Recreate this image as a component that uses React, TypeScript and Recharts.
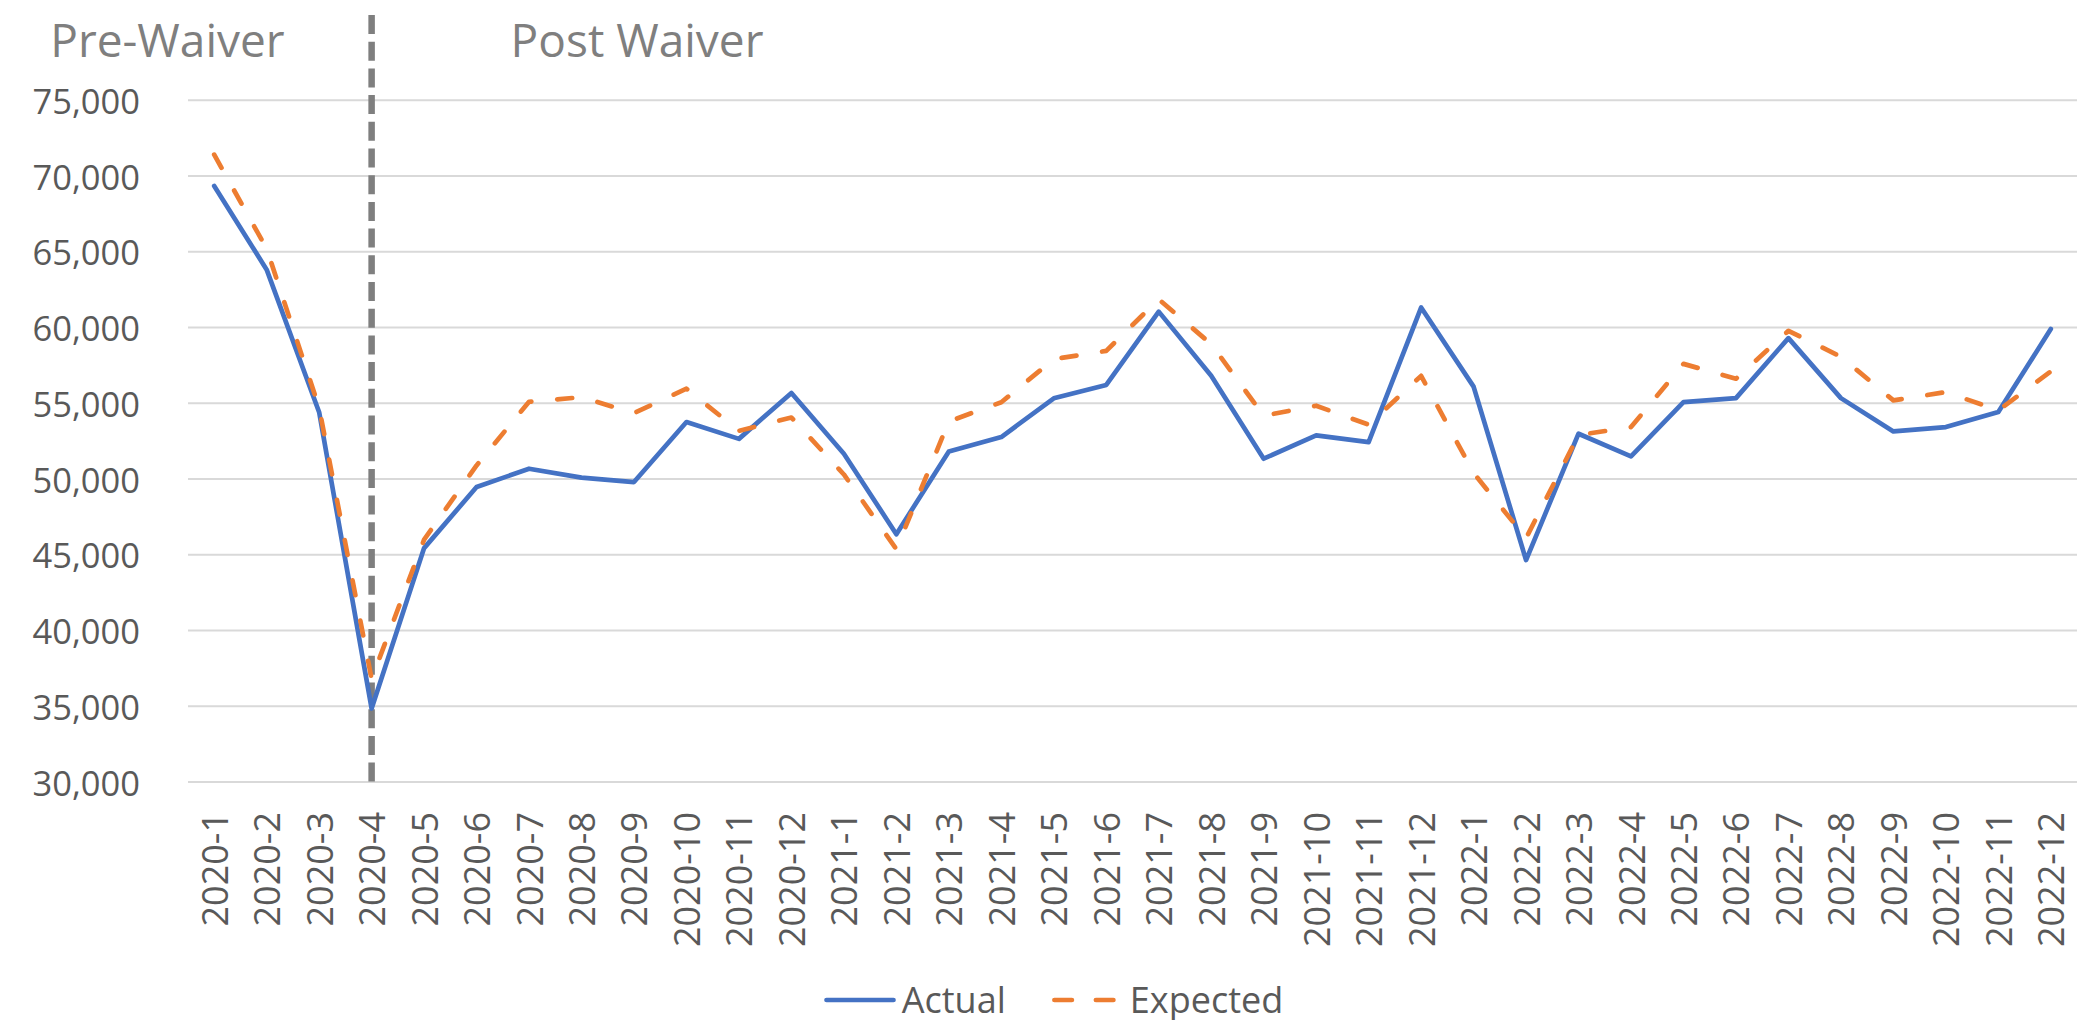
import {
  LineChart,
  Line,
  XAxis,
  YAxis,
  CartesianGrid,
  Legend,
  ReferenceLine,
} from 'recharts'

const months = [
  '2020-1', '2020-2', '2020-3', '2020-4', '2020-5', '2020-6', '2020-7', '2020-8', '2020-9', '2020-10', '2020-11', '2020-12',
  '2021-1', '2021-2', '2021-3', '2021-4', '2021-5', '2021-6', '2021-7', '2021-8', '2021-9', '2021-10', '2021-11', '2021-12',
  '2022-1', '2022-2', '2022-3', '2022-4', '2022-5', '2022-6', '2022-7', '2022-8', '2022-9', '2022-10', '2022-11', '2022-12',
]

const actual = [
  69350, 63820, 54410, 34850, 45440, 49470, 50680, 50090, 49800, 53760, 52650, 55680,
  51670, 46360, 51820, 52770, 55330, 56210, 61050, 56810, 51340, 52880, 52440, 61320,
  56100, 44650, 52990, 51490, 55080, 55340, 59300, 55340, 53140, 53430, 54420, 59900,
]

const expected = [
  71410, 65200, 54700, 36800, 46000, 50900, 55100, 55400, 54350, 55960, 53180, 54060,
  50300, 45370, 53800, 55070, 57910, 58460, 61870, 58900, 54180, 54840, 53590, 56810,
  50400, 46100, 52900, 53430, 57600, 56620, 59780, 58070, 55190, 55740, 54530, 57100,
]

const yTicks = [30000, 35000, 40000, 45000, 50000, 55000, 60000, 65000, 70000, 75000]
const yMin = 30000
const waiverMonth = '2020-4'
// the divider line runs a bit above the top gridline
const dividerTop = 80630

const BLUE = '#4472C4'
const ORANGE = '#ED7D31'
const GREY_TEXT = '#595959'

const data = months.map((m, i) => ({ month: m, actual: actual[i], expected: expected[i] }))

// recharts hands ticks 8px (tickSize + tickMargin) away from the axis
function MonthTick({ x, y, payload }: any) {
  const ty = y + 22
  return (
    <text
      x={x}
      y={ty}
      transform={`rotate(-90, ${x}, ${ty})`}
      textAnchor="end"
      dominantBaseline="central"
      fill={GREY_TEXT}
      fontSize={36}
    >
      {payload.value}
    </text>
  )
}

function ValueTick({ x, y, payload }: any) {
  return (
    <text x={x - 40} y={y} textAnchor="end" dominantBaseline="central" fill={GREY_TEXT} fontSize={34.5}>
      {Number(payload.value).toLocaleString('en-US')}
    </text>
  )
}

function WaiverLabels({ viewBox }: any) {
  if (!viewBox) return null
  const baseline = viewBox.y + 42
  return (
    <g fill="#7F7F7F" fontSize={46}>
      <text x={viewBox.x - 87} y={baseline} textAnchor="end">Pre-Waiver</text>
      <text x={viewBox.x + 139} y={baseline} textAnchor="start">Post Waiver</text>
    </g>
  )
}

function ChartLegend() {
  return (
    <div
      style={{
        display: 'flex',
        justifyContent: 'center',
        alignItems: 'center',
        height: 40,
        lineHeight: '40px',
        fontSize: 36,
        color: GREY_TEXT,
        paddingLeft: 18,
      }}
    >
      <svg width={72} height={10} style={{ marginRight: 6 }}>
        <line x1={2.5} y1={5} x2={69.5} y2={5} stroke={BLUE} strokeWidth={4.7} strokeLinecap="round" />
      </svg>
      <span>Actual</span>
      <svg width={65} height={10} style={{ marginLeft: 46, marginRight: 13 }}>
        <line
          x1={2.4}
          y1={5}
          x2={62.6}
          y2={5}
          stroke={ORANGE}
          strokeWidth={4.7}
          strokeLinecap="round"
          strokeDasharray="17.5 24"
        />
      </svg>
      <span>Expected</span>
    </div>
  )
}

// gridlines only at the labelled ticks, not at the stretched top of the domain
function gridRows({ offset }: any) {
  if (!offset) return []
  return yTicks.map((t) => offset.top + ((dividerTop - t) / (dividerTop - yMin)) * offset.height)
}

export default function App() {
  return (
    <div
      style={{
        position: 'absolute',
        left: 0,
        top: 0,
        width: 2089,
        height: 1020,
        background: '#fff',
        fontFamily: '"Open Sans", sans-serif',
      }}
    >
      <LineChart
        width={2089}
        height={1020}
        data={data}
        margin={{ top: 15, right: 12, left: 0, bottom: 0 }}
      >
        <CartesianGrid
          vertical={false}
          stroke="#D9D9D9"
          strokeWidth={2}
          horizontalCoordinatesGenerator={gridRows}
        />
        <XAxis
          dataKey="month"
          interval={0}
          height={198}
          padding={{ left: 26.2, right: 26.2 }}
          axisLine={false}
          tickLine={false}
          tick={<MonthTick />}
        />
        <YAxis
          width={188}
          domain={[yMin, dividerTop]}
          ticks={yTicks}
          axisLine={false}
          tickLine={false}
          tick={<ValueTick />}
        />
        <ReferenceLine
          segment={[
            { x: waiverMonth, y: dividerTop },
            { x: waiverMonth, y: yMin },
          ]}
          ifOverflow="visible"
          stroke="#7F7F7F"
          strokeWidth={6.5}
          strokeDasharray="19 7.7"
          label={<WaiverLabels />}
        />
        <Line
          type="linear"
          dataKey="actual"
          name="Actual"
          stroke={BLUE}
          strokeWidth={4.7}
          strokeLinejoin="round"
          strokeLinecap="round"
          dot={false}
          activeDot={false}
          isAnimationActive={false}
        />
        <Line
          type="linear"
          dataKey="expected"
          name="Expected"
          stroke={ORANGE}
          strokeWidth={4.7}
          strokeLinejoin="round"
          strokeLinecap="round"
          strokeDasharray="15 26"
          dot={false}
          activeDot={false}
          isAnimationActive={false}
        />
        <Legend
          verticalAlign="bottom"
          wrapperStyle={{ left: 0, width: 2089, bottom: 0, height: 40 }}
          content={<ChartLegend />}
        />
      </LineChart>
    </div>
  )
}
